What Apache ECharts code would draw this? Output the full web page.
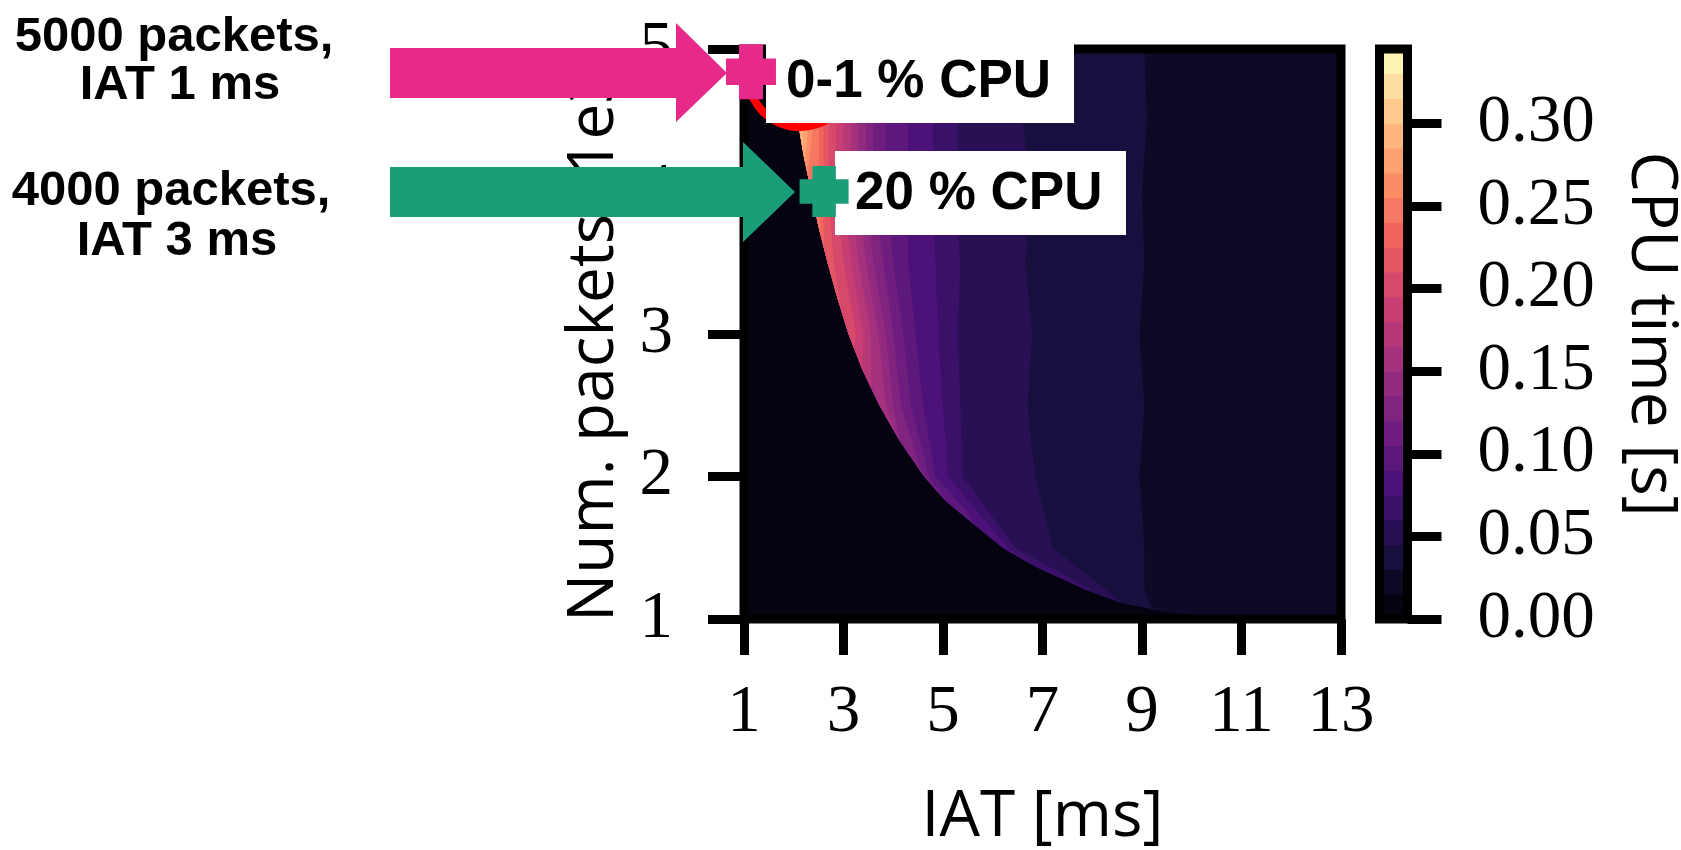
<!DOCTYPE html>
<html>
<head>
<meta charset="utf-8">
<title>CPU time vs IAT and packets</title>
<style>
html, body { margin: 0; padding: 0; background: #fff; }
#chart { width: 1681px; height: 850px; }
</style>
<script src="https://cdn.jsdelivr.net/npm/echarts@6.0.0/dist/echarts.min.js"></script>
</head>
<body>
<div id="chart"></div>
<script>
// axis ranges and ticks
var iatRange = [1, 13];
var packetRange = [1, 5];
var iatTicks = [1, 3, 5, 7, 9, 11, 13];
var packetTicks = [1, 2, 3, 4, 5];
var cpuTicks = [0, 0.05, 0.10, 0.15, 0.20, 0.25, 0.30];

// contour levels of the colour bar, CPU time [s]
var cpuLevels = [0.000, 0.015, 0.030, 0.045, 0.060, 0.075, 0.090, 0.105, 0.120,
  0.135, 0.150, 0.165, 0.180, 0.195, 0.210, 0.225, 0.240, 0.255, 0.270,
  0.285, 0.300, 0.315, 0.330, 0.345];

// edge of the zero CPU region, [IAT ms, packets 1e3], top to bottom
var zeroEdge = [[1.95, 5.0], [2.0, 4.75], [2.08, 4.5], [2.2, 4.25], [2.35, 4.0],
  [2.5, 3.75], [2.68, 3.5], [2.88, 3.25], [3.1, 3.0], [3.38, 2.75], [3.72, 2.5],
  [4.13, 2.25], [4.62, 2.0], [5.05, 1.83], [5.6, 1.67], [6.2, 1.5], [6.9, 1.36],
  [7.9, 1.2], [8.6, 1.11], [9.5, 1.05], [10.6, 1.0]];

// right edge of the region where CPU >= cpuLevels[k], top to bottom,
// last point is where the region closes on zeroEdge
var levelEdges = [
  [[13, 5.0], [13, 1.0], [10.6, 1.0]],
  [[9.05, 5.0], [9.1, 4.5], [9.0, 4.0], [9.05, 3.5], [8.95, 3.0], [9.05, 2.5], [8.95, 2.0], [9.05, 1.5], [9.05, 1.2], [9.2, 1.08], [9.5, 1.05]],
  [[6.7, 5.0], [6.6, 4.5], [6.75, 4.0], [6.65, 3.5], [6.8, 3.0], [6.7, 2.5], [6.85, 2.0], [7.2, 1.5], [8.3, 1.2], [8.6, 1.11]],
  [[5.3, 5.0], [5.3, 4.5], [5.25, 4.0], [5.35, 3.5], [5.3, 3.0], [5.35, 2.5], [5.4, 2.0], [6.45, 1.5], [8.0, 1.2], [7.9, 1.2]],
  [[4.8, 5.0], [4.8, 4.5], [4.8, 4.0], [4.85, 3.5], [4.9, 3.0], [5.0, 2.5], [5.1, 2.0], [6.3, 1.5], [6.9, 1.36]],
  [[4.2, 5.0], [4.3, 4.5], [4.3, 4.0], [4.3, 3.5], [4.45, 3.0], [4.6, 2.5], [4.85, 2.0], [5.5, 1.75], [5.6, 1.67]],
  [[3.75, 5.0], [3.85, 4.5], [3.85, 4.0], [4.0, 3.5], [4.2, 3.0], [4.35, 2.5], [4.72, 2.0], [5.05, 1.83]],
  [[3.5, 5.0], [3.6, 4.5], [3.6, 4.0], [3.8, 3.5], [4.0, 3.0], [4.15, 2.5], [4.5, 2.1], [4.62, 2.0]],
  [[3.35, 5.0], [3.45, 4.5], [3.45, 4.0], [3.6, 3.5], [3.85, 3.0], [4.0, 2.5], [4.13, 2.25]],
  [[3.2, 5.0], [3.3, 4.5], [3.3, 4.0], [3.45, 3.5], [3.7, 3.0], [3.85, 2.5], [4.05, 2.3]],
  [[3.05, 5.0], [3.15, 4.5], [3.15, 4.0], [3.3, 3.5], [3.55, 3.0], [3.56, 2.62]],
  [[2.9, 5.0], [3.0, 4.5], [3.0, 4.0], [3.15, 3.5], [3.4, 3.0], [3.38, 2.75]],
  [[2.75, 5.0], [2.85, 4.5], [2.85, 4.0], [3.0, 3.5], [3.25, 3.0], [3.21, 2.9]],
  [[2.6, 5.0], [2.7, 4.5], [2.7, 4.0], [2.8, 3.5], [2.95, 3.17]],
  [[2.5, 5.0], [2.6, 4.5], [2.6, 4.0], [2.61, 3.6]],
  [[2.4, 5.0], [2.5, 4.5], [2.5, 4.0], [2.55, 3.68]],
  [[2.32, 5.0], [2.4, 4.5], [2.28, 4.12]],
  [[2.22, 5.0], [2.3, 4.5], [2.23, 4.2]],
  [[2.12, 5.0], [2.2, 4.5], [2.18, 4.3]],
  [[2.05, 5.0], [2.1, 4.45]]
];

// the two marked runs, [IAT ms, packets 1e3]
var markedRuns = [[1.14, 4.84], [2.61, 4.0]];
var markedColors = ['#e7298a', '#1b9e77'];

// magma colour map, 10 evenly spaced stops
var magmaStops = ['#000004', '#180f3e', '#451077', '#721f81', '#9f2f7f',
  '#cd4071', '#f1605d', '#fd9567', '#fec98d', '#fcfdbf'];

function hexRgb(h) {
  return [parseInt(h.substr(1, 2), 16), parseInt(h.substr(3, 2), 16), parseInt(h.substr(5, 2), 16)];
}

function magma(t) {
  var n = magmaStops.length - 1;
  var s = t * n;
  var i = Math.min(n - 1, Math.floor(s));
  var f = s - i;
  var a = hexRgb(magmaStops[i]), b = hexRgb(magmaStops[i + 1]);
  var c = a.map(function (v, j) { return Math.round(v + (b[j] - v) * f); });
  return 'rgb(' + c.join(',') + ')';
}

var nBands = cpuLevels.length - 1;
var bandColors = [];
for (var k = 0; k < nBands; k++) {
  bandColors.push(magma((k + 0.5) / nBands));
}

function levelPolygon(k) {
  if (k === 0) {
    return [[iatRange[0], packetRange[1]], [iatRange[0], packetRange[0]],
      [iatRange[1], packetRange[0]], [iatRange[1], packetRange[1]]];
  }
  var edge = levelEdges[k - 1];
  var tip = edge[edge.length - 1];
  var left = zeroEdge.filter(function (p) { return p[1] > tip[1]; });
  return left.concat(edge.slice().reverse());
}

var levelData = [[iatRange[0], packetRange[0], 0]];
levelEdges.forEach(function (edge, i) {
  var tip = edge[edge.length - 1];
  levelData.push([tip[0], tip[1], i + 1]);
});

var barData = [];
for (var b = 0; b < nBands; b++) {
  barData.push([0, cpuLevels[b], b]);
}

var tickFont = { color: '#000', fontFamily: 'Liberation Serif', fontSize: 67 };
var nameFont = { color: '#000', fontFamily: 'Open Sans', fontSize: 64 };
var tickLine = { color: '#000', width: 9 };
var plusPath = 'path://M26,0H74V26H100V74H74V100H26V74H0V26H26Z';

var chart = echarts.init(document.getElementById('chart'), null, { renderer: 'canvas' });

chart.setOption({
  animation: false,
  grid: [
    { left: 744, top: 49, width: 597, height: 570, show: true, borderColor: '#000', borderWidth: 9, backgroundColor: 'transparent', z: 10, outerBoundsMode: 'none', containLabel: false },
    { left: 1379.5, top: 49, width: 28, height: 570, show: true, borderColor: '#000', borderWidth: 9, backgroundColor: 'transparent', z: 10, outerBoundsMode: 'none', containLabel: false }
  ],
  xAxis: [
    {
      gridIndex: 0, type: 'value', min: iatRange[0], max: iatRange[1],
      axisLine: { show: false, onZero: false }, splitLine: { show: false },
      axisTick: { customValues: iatTicks, length: 36, lineStyle: tickLine },
      axisLabel: Object.assign({ customValues: iatTicks, margin: 61 }, tickFont),
      name: 'IAT [ms]', nameLocation: 'middle', nameGap: 167, nameTextStyle: nameFont
    },
    { gridIndex: 1, type: 'value', min: 0, max: 1, show: false, axisLine: { onZero: false } }
  ],
  yAxis: [
    {
      gridIndex: 0, type: 'value', min: packetRange[0], max: packetRange[1],
      axisLine: { show: false, onZero: false }, splitLine: { show: false },
      axisTick: { customValues: packetTicks, length: 36, lineStyle: tickLine },
      axisLabel: Object.assign({ customValues: packetTicks, margin: 71, padding: [16, 0, 0, 0] }, tickFont),
      name: 'Num. packets [1e3]', nameLocation: 'middle', nameRotate: 90, nameGap: 117, nameTextStyle: nameFont
    },
    {
      gridIndex: 1, type: 'value', position: 'right', min: cpuLevels[0], max: cpuLevels[nBands],
      axisLine: { show: false, onZero: false }, splitLine: { show: false },
      axisTick: { customValues: cpuTicks, length: 34, inside: false, lineStyle: tickLine },
      axisLabel: Object.assign({
        customValues: cpuTicks, margin: 70, padding: [16, 0, 0, 0],
        formatter: function (v) { return v.toFixed(2); }
      }, tickFont),
      name: 'CPU time [s]', nameLocation: 'middle', nameRotate: -90, nameGap: 211, nameTextStyle: nameFont
    }
  ],
  series: [
    {
      type: 'custom', name: 'cpu', xAxisIndex: 0, yAxisIndex: 0, silent: true,
      data: levelData,
      renderItem: function (params, api) {
        var k = api.value(2);
        var pts = levelPolygon(k).map(function (p) { return api.coord(p); });
        return { type: 'polygon', z2: k, shape: { points: pts }, style: { fill: bandColors[k] } };
      }
    },
    {
      type: 'custom', name: 'colorbar', xAxisIndex: 1, yAxisIndex: 1, silent: true,
      data: barData,
      renderItem: function (params, api) {
        var k = api.value(2);
        var p0 = api.coord([0, cpuLevels[k + 1]]);
        var p1 = api.coord([1, cpuLevels[k]]);
        return {
          type: 'rect',
          shape: { x: p0[0], y: p0[1] - 0.5, width: p1[0] - p0[0], height: p1[1] - p0[1] + 1 },
          style: { fill: bandColors[k] }
        };
      }
    },
    {
      type: 'scatter', name: 'runs', xAxisIndex: 0, yAxisIndex: 0, silent: true, clip: false, z: 40,
      symbol: plusPath,
      itemStyle: { opacity: 1 },
      data: [
        { value: markedRuns[0], symbolSize: [50, 55], itemStyle: { color: markedColors[0], opacity: 1 } },
        { value: markedRuns[1], symbolSize: [49, 51], itemStyle: { color: markedColors[1], opacity: 1 } }
      ]
    }
  ],
  graphic: [
    {
      type: 'arc', z: 5, silent: true,
      shape: { cx: 800, cy: 75, r: 52, startAngle: 0.15 * Math.PI, endAngle: 1.05 * Math.PI },
      style: { stroke: '#ff0000', lineWidth: 8, fill: null }
    },
    { type: 'rect', z: 30, silent: true, shape: { x: 766, y: 40, width: 308, height: 83 }, style: { fill: '#fff' } },
    { type: 'rect', z: 30, silent: true, shape: { x: 835, y: 151, width: 291, height: 84 }, style: { fill: '#fff' } },
    {
      type: 'text', z: 31, x: 786, y: 82, silent: true,
      style: { text: '0-1 % CPU', font: 'bold 53px "Liberation Sans"', fill: '#000', align: 'left', verticalAlign: 'middle' }
    },
    {
      type: 'text', z: 31, x: 855, y: 194, silent: true,
      style: { text: '20 % CPU', font: 'bold 53px "Liberation Sans"', fill: '#000', align: 'left', verticalAlign: 'middle' }
    },
    {
      type: 'polygon', z: 35, silent: true,
      shape: { points: [[390, 48], [676, 48], [676, 23], [727, 73], [676, 122], [676, 98], [390, 98]] },
      style: { fill: markedColors[0] }
    },
    {
      type: 'polygon', z: 35, silent: true,
      shape: { points: [[390, 167], [743, 167], [743, 142], [795, 192], [743, 242], [743, 217], [390, 217]] },
      style: { fill: markedColors[1] }
    },
    {
      type: 'text', z: 35, x: 174, y: 37, silent: true,
      style: { text: '5000 packets,', font: 'bold 49px "Liberation Sans"', fill: '#000', align: 'center', verticalAlign: 'middle' }
    },
    {
      type: 'text', z: 35, x: 180, y: 85, silent: true,
      style: { text: 'IAT 1 ms', font: 'bold 49px "Liberation Sans"', fill: '#000', align: 'center', verticalAlign: 'middle' }
    },
    {
      type: 'text', z: 35, x: 171, y: 191, silent: true,
      style: { text: '4000 packets,', font: 'bold 49px "Liberation Sans"', fill: '#000', align: 'center', verticalAlign: 'middle' }
    },
    {
      type: 'text', z: 35, x: 177, y: 241, silent: true,
      style: { text: 'IAT 3 ms', font: 'bold 49px "Liberation Sans"', fill: '#000', align: 'center', verticalAlign: 'middle' }
    }
  ]
});
</script>
</body>
</html>
